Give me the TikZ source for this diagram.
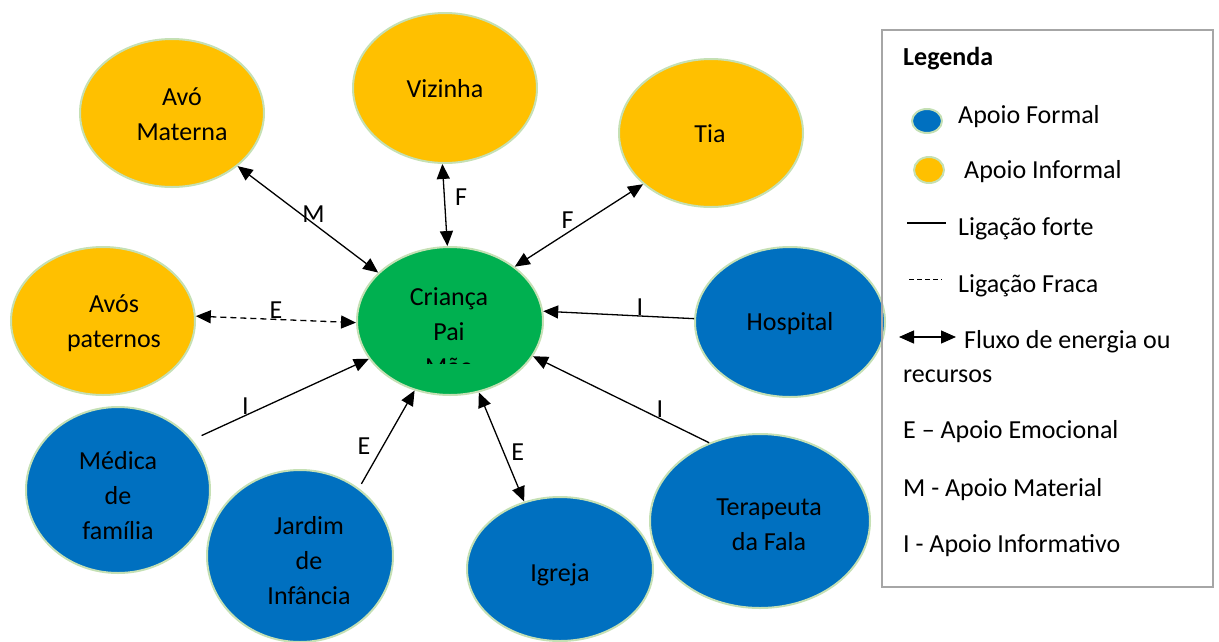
\documentclass[tikz,border=0pt]{standalone}
\usepackage{fontspec}
\setmainfont{Carlito}
\usetikzlibrary{arrows.meta,shapes.geometric,positioning,calc}
\definecolor{informal}{HTML}{FFC000}
\definecolor{formal}{HTML}{0070C0}
\definecolor{centro}{HTML}{00B050}
\definecolor{contorno}{HTML}{C5E0B4}
\definecolor{moldura}{HTML}{A6A6A6}

\begin{document}
\begin{tikzpicture}[x=1pt, y=-1pt,
    every node/.style={font=\fontsize{26}{35}\selectfont},
    rede/.style={draw=contorno, line width=2pt, ellipse, inner sep=0pt},
    informalnode/.style={rede, fill=informal},
    formalnode/.style={rede, fill=formal},
    nodetxt/.style={inner sep=0pt, align=center},
    liga/.style={line width=1.3pt, -{Triangle[length=15pt,width=13pt]}},
    ligadupla/.style={line width=1.3pt, {Triangle[length=15pt,width=13pt]}-{Triangle[length=15pt,width=13pt]}},
    rotulo/.style={inner sep=0pt},
    legtxt/.style={anchor=base west, inner sep=0pt}]
    \useasboundingbox (0,0) rectangle (1219,641);

    % Centre: the family
    \node[rede, fill=centro, minimum width=186pt, minimum height=148pt] (crianca) at (450,321) {};
    \node[rotulo, anchor=base] (criancatxt) at (449,305) {Criança};
    \node[rotulo, anchor=base] (paitxt) at (449,340) {Pai};
    \begin{scope}
        \clip (400,345) rectangle (500,363);
        \node[rotulo, anchor=base] (maetxt) at (449,375) {Mãe};
    \end{scope}

    % Informal support
    \node[informalnode, minimum width=184pt, minimum height=148pt] (avomat) at (172,113) {};
    \node[nodetxt] (avomattxt) at (182,114.5) {Avó\\Materna};
    \node[informalnode, minimum width=184pt, minimum height=150pt] (vizinha) at (445,88) {};
    \node[nodetxt] (vizinhatxt) at (445,89) {Vizinha};
    \node[informalnode, minimum width=184pt, minimum height=148pt] (tia) at (711,133) {};
    \node[nodetxt] (tiatxt) at (710,134) {Tia};
    \node[informalnode, minimum width=184pt, minimum height=148pt] (avospat) at (103,321) {};
    \node[nodetxt] (avospattxt) at (114,323) {Avós\\paternos};

    % Formal support
    \node[formalnode, minimum width=190pt, minimum height=150pt] (hospital) at (790,322) {};
    \node[nodetxt] (hospitaltxt) at (790,324) {Hospital};
    \node[formalnode, minimum width=220pt, minimum height=174pt] (terapeuta) at (760,521) {};
    \node[nodetxt] (terapeutatxt) at (769,525) {Terapeuta\\da Fala};
    \node[formalnode, minimum width=186pt, minimum height=144pt] (igreja) at (560,569) {};
    \node[nodetxt] (igrejatxt) at (560,575) {Igreja};
    \node[formalnode, minimum width=186pt, minimum height=172pt] (jardim) at (300,556) {};
    \node[nodetxt] (jardimtxt) at (309,560.5) {Jardim\\de\\Infância};
    \node[formalnode, minimum width=184pt, minimum height=166pt] (medica) at (118,490) {};
    \node[nodetxt] (medicatxt) at (118,496) {Médica\\de\\família};

    % Links to the centre
    \draw[ligadupla] (avomat.-39) -- node[rotulo, pos=.54, anchor=south] (lm) {M} (crianca.146);
    \draw[ligadupla] (vizinha.-92) -- node[rotulo, pos=.41, right=10pt] (lv) {F} (crianca.92);
    \draw[ligadupla] (tia.217) -- node[rotulo, pos=.62, anchor=south, yshift=6pt, xshift=4pt] (lt) {F} (crianca.40);
    \draw[ligadupla, dashed, dash pattern=on 6pt off 4pt] (avospat.3) -- node[rotulo, pos=.5, anchor=south] (lp) {E} (crianca.181);
    \draw[liga, shorten <=10pt] (medica.34) -- node[rotulo, pos=.3, anchor=south] (lmed) {I} (crianca.205);
    \draw[liga, shorten <=5pt] (jardim.49) -- node[rotulo, pos=.43, left=12pt] (lj) {E} (crianca.243);
    \draw[ligadupla] (igreja.118) -- node[rotulo, pos=.45, right=7pt] (li) {E} (crianca.292);
    \draw[liga] (hospital.178) -- node[rotulo, pos=.36, anchor=south] (lh) {I} (crianca.6);
    \draw[liga] (terapeuta.123) -- node[rotulo, pos=.28, anchor=south] (lter) {I} (crianca.337);

    % Legend
    \node[draw=moldura, line width=2pt, inner sep=0pt, minimum width=331pt, minimum height=557pt] (legbox) at (1047.5,308.5) {};
    \node[legtxt, font=\fontsize{26}{35}\selectfont\bfseries] (legtitulo) at (903,65) {Legenda};
    \node[formalnode, minimum width=30pt, minimum height=24pt] (dotformal) at (927,121) {};
    \node[legtxt] (txtformal) at (958,123) {Apoio Formal};
    \node[informalnode, minimum width=30pt, minimum height=26pt] (dotinformal) at (929,170) {};
    \node[legtxt] (txtinformal) at (964,178) {Apoio Informal};
    \coordinate (fortea) at (907,223);
    \coordinate (forteb) at (946,223);
    \draw[line width=1.5pt] (fortea) -- (forteb);
    \node[legtxt] (txtforte) at (958,235) {Ligação forte};
    \coordinate (fracaa) at (909,279);
    \coordinate (fracab) at (942,279);
    \draw[line width=1pt, dash pattern=on 5pt off 3pt] (fracaa) -- (fracab);
    \node[legtxt] (txtfraca) at (958,292) {Ligação Fraca};
    \coordinate (fluxoa) at (899,337);
    \coordinate (fluxob) at (956,337);
    \draw[ligadupla] (fluxoa) -- (fluxob);
    \node[legtxt] (txtfluxo) at (964,348) {Fluxo de energia ou};
    \node[legtxt] (txtrecursos) at (903,382) {recursos};
    \node[legtxt] (txte) at (903,438) {E – Apoio Emocional};
    \node[legtxt] (txtm) at (903,496) {M - Apoio Material};
    \node[legtxt] (txti) at (903,552) {I - Apoio Informativo};

\end{tikzpicture}
\end{document}
